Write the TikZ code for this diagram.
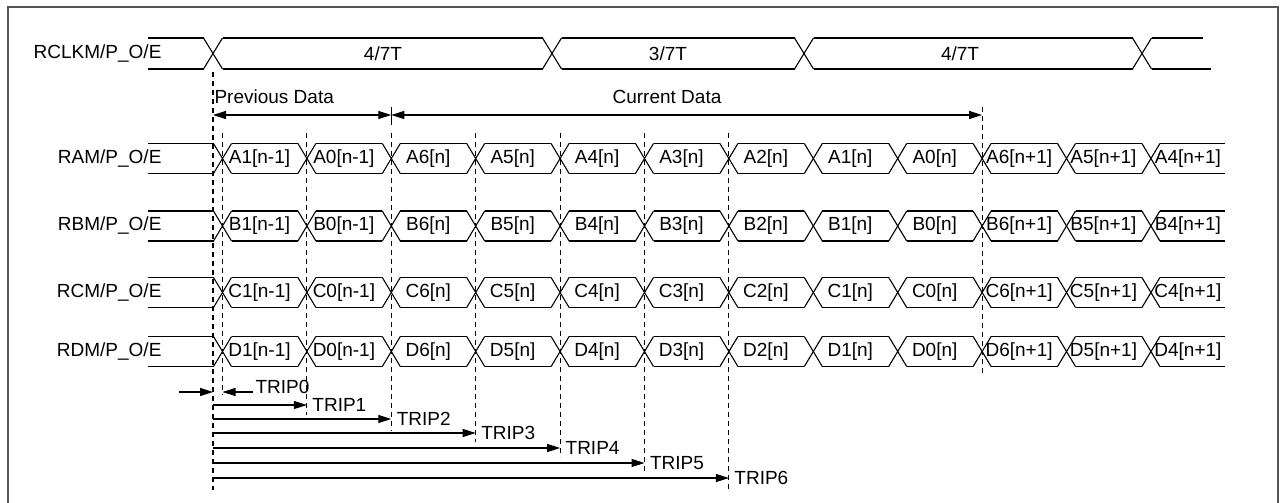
\documentclass[tikz,border=0pt]{standalone}
\usepackage{fontspec}
\setmainfont{Liberation Sans}
\usetikzlibrary{arrows.meta}
\definecolor{framegray}{RGB}{85,85,85}
\begin{document}
\begin{tikzpicture}[x=1pt, y=-1pt, line width=1.1pt,
  txt/.style={inner sep=1pt, font=\fontsize{19}{22}\selectfont},
  guide/.style={dash pattern=on 5pt off 4pt, line width=1.1pt},
  tip/.style={-{Triangle[length=13pt,width=8pt]}},
  bitip/.style={{Triangle[length=13pt,width=8pt]}-{Triangle[length=13pt,width=8pt]}}]
  \useasboundingbox (0,0) rectangle (1285,503);
  \draw[framegray, line width=2.5pt] (8,7) rectangle (1278,515);

  % clock row
  \node[txt, anchor=east] (clk) at (163,53.5) {RCLKM/P\_O/E};
  \foreach \c in {213,552,804,1142} {
    \draw (\c-9.5,38) -- (\c+9.5,69);
    \draw (\c-9.5,69) -- (\c+9.5,38);
  }
  \foreach \a/\b in {148/203.5, 222.5/542.5, 561.5/794.5, 813.5/1132.5} {
    \draw (\a,38) -- (\b,38);
    \draw (\a,69) -- (\b,69);
  }
  \draw (1151.5,38) -- (1203,38);
  \draw (1151.5,69) -- (1211,69);
  \node[txt] (frac1) at (383,53.5) {4/7T};
  \node[txt] (frac2) at (668,53.5) {3/7T};
  \node[txt] (frac3) at (960,53.5) {4/7T};

  % data rows
  \foreach \sig/\y in {A/158.5, B/226, C/292.5, D/351.5} {
    \node[txt, anchor=east] (lbl\sig) at (163,\y) {R\sig M/P\_O/E};
    \draw (148,\y-15) -- (213.5,\y-15);
    \draw (148,\y+15) -- (213.5,\y+15);
    \foreach \k in {0,...,11} {
      \pgfmathsetmacro\t{222.5+84.4*\k}
      \pgfmathsetmacro\e{\k<11 ? \t+75.4 : 1225}
      \draw (\t-9,\y-15) -- (\t+9,\y+15);
      \draw (\t-9,\y+15) -- (\t+9,\y-15);
      \draw (\t+9,\y-15) -- (\e,\y-15);
      \draw (\t+9,\y+15) -- (\e,\y+15);
    }
    \foreach \lab [count=\k from 0] in {{1[n-1]},{0[n-1]},{6[n]},{5[n]},{4[n]},{3[n]},{2[n]},{1[n]},{0[n]},{6[n+1]},{5[n+1]},{4[n+1]}} {
      \node[txt] (\sig\k) at (222.5+84.4*\k+37,\y) {\sig\lab};
    }
  }

  % timing marks
  \foreach \x/\a/\b in {213/72/490, 222.5/133/395, 306.9/133/415, 391.3/133/431,
      475.7/133/442, 560.1/133/457, 644.5/133/471, 728.9/133/490, 982.1/107/373} {
    \draw[guide] (\x,\a) -- (\x,\b);
  }

  % data windows
  \draw[bitip] (213,115) -- (391.3,115);
  \draw[bitip] (391.3,115) -- (982.1,115);
  \draw (391.3,107) -- (391.3,125);
  \node[txt, anchor=west] (prev) at (213,97) {Previous Data};
  \node[txt] (curr) at (667,97) {Current Data};

  % trip arrows
  \draw[tip] (179,392) -- (213,392);
  \draw[tip] (253,392) -- (222.5,392);
  \node[txt, anchor=west] (trip0) at (254,387) {TRIP0};
  \foreach \k/\y in {1/405, 2/419, 3/433, 4/448, 5/463, 6/478} {
    \pgfmathsetmacro\t{222.5+84.4*\k}
    \draw[tip] (213,\y) -- (\t,\y);
    \node[txt, anchor=west] (trip\k) at (\t+4,\y) {TRIP\k};
  }
\end{tikzpicture}
\end{document}
